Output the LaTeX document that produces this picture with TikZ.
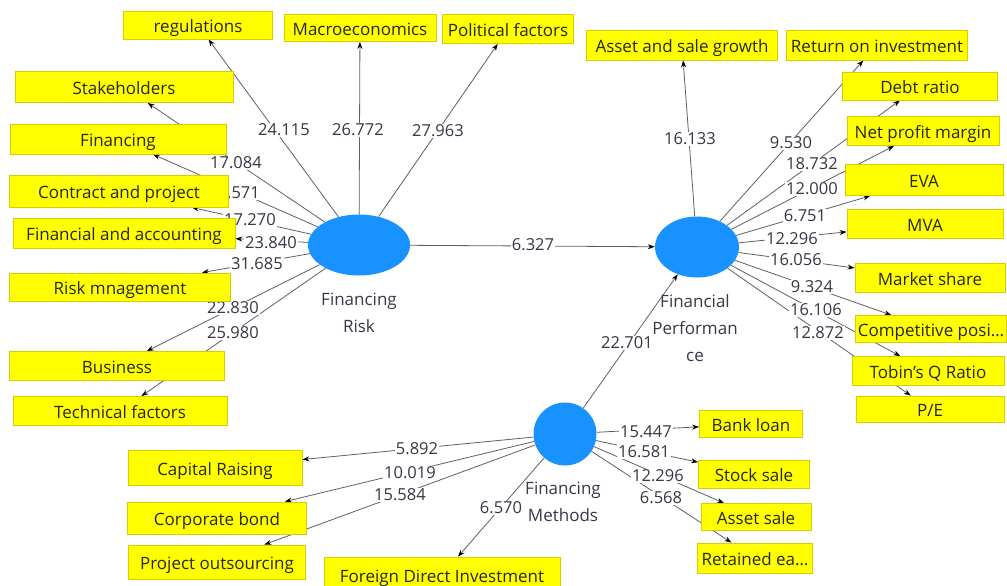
\documentclass[tikz,border=0pt]{standalone}
\usepackage{fontspec}
\setmainfont{Open Sans}
\usetikzlibrary{shapes.geometric,arrows.meta}
\pgfdeclarelayer{bg}
\pgfsetlayers{bg,main}
\definecolor{boxyellow}{RGB}{255,255,0}
\definecolor{boxedge}{RGB}{215,205,0}
\definecolor{lvblue}{RGB}{24,146,255}
\definecolor{edgegray}{RGB}{95,95,95}
\definecolor{lbl}{RGB}{55,55,70}
\begin{document}
\begin{tikzpicture}[x=1pt,y=-1pt,
 ind/.style={draw=boxedge,fill=boxyellow,line width=0.8pt,inner sep=0pt,text height=17pt,text depth=2pt,text=black!85,font=\fontsize{17}{20}\selectfont},
 lvnode/.style={fill=lvblue,draw=none,inner sep=0pt},
 lvtext/.style={align=center,text=lbl,font=\fontsize{17}{27}\selectfont},
 wt/.style={fill=white,inner sep=1pt,text=lbl,font=\fontsize{16.5}{18}\selectfont},
 edge/.style={draw=edgegray,line width=0.8pt,-{Stealth[length=7pt,width=5pt,color=black]}}]
\path[use as bounding box] (0,0) rectangle (1007,586);
\clip (0,0) rectangle (1007,586);

% latent variables
\node[lvnode,ellipse,minimum width=102pt,minimum height=61pt] (fr) at (359,245) {};
\node[lvnode,ellipse,minimum width=84pt,minimum height=61pt] (fp) at (697,247) {};
\node[lvnode,circle,minimum size=63pt] (fm) at (565,434) {};
\node[lvtext] (frt) at (359,313) {Financing\\Risk};
\node[lvtext] (fpt) at (695,328) {Financial\\Performan\\ce};
\node[lvtext] (fmt) at (563,502) {Financing\\Methods};

% indicator boxes - Financing Risk
\node[ind,minimum width=149pt,minimum height=28pt] (reg) at (198,25) {regulations};
\node[ind,minimum width=152pt,minimum height=27pt] (mac) at (360,28) {Macroeconomics};
\node[ind,minimum width=131pt,minimum height=29pt] (pol) at (508,29) {Political factors};
\node[ind,minimum width=218pt,minimum height=31pt] (stk) at (124,87) {Stakeholders};
\node[ind,minimum width=216pt,minimum height=30pt] (fin) at (118,139) {Financing};
\node[ind,minimum width=219pt,minimum height=32pt] (con) at (119,191) {Contract and project};
\node[ind,minimum width=222pt,minimum height=30pt] (fa) at (124,233) {Financial and accounting};
\node[ind,minimum width=221pt,minimum height=28pt] (rm) at (120,287) {Risk mnagement};
\node[ind,minimum width=215pt,minimum height=29pt] (bus) at (117,366) {Business};
\node[ind,minimum width=214pt,minimum height=29pt] (tec) at (120,411) {Technical factors};

% indicator boxes - Financial Performance
\node[ind,minimum width=191pt,minimum height=30pt] (asg) at (682,45) {Asset and sale growth};
\node[ind,minimum width=181pt,minimum height=30pt] (roi) at (877,45) {Return on investment};
\node[ind,minimum width=155pt,minimum height=28pt] (debt) at (920,86) {Debt ratio};
\node[ind,minimum width=152pt,minimum height=29pt] (npm) at (923,131) {Net profit margin};
\node[ind,minimum width=158pt,minimum height=31pt] (eva) at (924,180) {EVA};
\node[ind,minimum width=156pt,minimum height=29pt] (mva) at (925,224) {MVA};
\node[ind,minimum width=150pt,minimum height=29pt] (ms) at (930,278) {Market share};
\node[ind,minimum width=151pt,minimum height=27pt] (cp) at (931,329) {Competitive posi…};
\node[ind,minimum width=152pt,minimum height=29pt] (tob) at (928,371) {Tobin's Q Ratio};
\node[ind,minimum width=148pt,minimum height=26pt] (pe) at (930,409) {P/E};

% indicator boxes - Financing Methods
\node[ind,minimum width=103pt,minimum height=27pt] (bank) at (751,424) {Bank loan};
\node[ind,minimum width=111pt,minimum height=28pt] (stock) at (754,474) {Stock sale};
\node[ind,minimum width=110pt,minimum height=27pt] (asale) at (756,517) {Asset sale};
\node[ind,minimum width=115pt,minimum height=30pt] (ret) at (755,558) {Retained ea…};
\node[ind,minimum width=174pt,minimum height=35pt] (cap) at (215,468) {Capital Raising};
\node[ind,minimum width=179pt,minimum height=32pt] (corp) at (217,518) {Corporate bond};
\node[ind,minimum width=177pt,minimum height=34pt] (proj) at (217,562) {Project outsourcing};
\node[ind,minimum width=236pt,minimum height=36pt] (fdi) at (442,575) {Foreign Direct Investment};

\begin{pgfonlayer}{bg}
% edges
\draw[edge] (fr) -- (reg);
\draw[edge] (fr) -- (mac);
\draw[edge] (fr) -- (pol);
\draw[edge] (fr) -- (stk);
\draw[edge] (fr) -- (fin);
\draw[edge] (fr) -- (con);
\draw[edge] (fr) -- (fa);
\draw[edge] (fr) -- (rm);
\draw[edge] (fr) -- (bus);
\draw[edge] (fr) -- (tec);
\draw[edge] (fr) -- (fp);
\draw[edge] (fm) -- (fp);
\draw[edge] (fp) -- (asg);
\draw[edge] (fp) -- (roi);
\draw[edge] (fp) -- (debt);
\draw[edge] (fp) -- (npm);
\draw[edge] (fp) -- (eva);
\draw[edge] (fp) -- (mva);
\draw[edge] (fp) -- (ms);
\draw[edge] (fp) -- (cp);
\draw[edge] (fp) -- (tob);
\draw[edge] (fp) -- (pe);
\draw[edge] (fm) -- (bank);
\draw[edge] (fm) -- (stock);
\draw[edge] (fm) -- (asale);
\draw[edge] (fm) -- (ret);
\draw[edge] (fm) -- (cap);
\draw[edge] (fm) -- (corp);
\draw[edge] (fm) -- (proj);
\draw[edge] (fm) -- (fdi);
% path coefficients
\node[wt] (l1) at (284,130) {24.115};
\node[wt] (l2) at (358,130) {26.772};
\node[wt] (l3) at (438,131) {27.963};
\node[wt] (l4) at (236,163) {17.084};
\node[wt,anchor=east] (l5) at (261,193) {1.571};
\node[wt] (l6) at (250,220) {17.270};
\node[wt] (l7) at (271,243) {23.840};
\node[wt] (l8) at (257,264) {31.685};
\node[wt] (l9) at (233,308) {22.830};
\node[wt] (l10) at (233,333) {25.980};
\node[wt] (l11) at (533,245) {6.327};
\node[wt] (l12) at (627,343) {22.701};
\node[wt] (l13) at (690,139) {16.133};
\node[wt] (l14) at (791,143) {9.530};
\node[wt] (l15) at (812,164) {18.732};
\node[wt] (l16) at (812,189) {12.000};
\node[wt] (l17) at (805,216) {6.751};
\node[wt] (l18) at (792,239) {12.296};
\node[wt] (l19) at (796,260) {16.056};
\node[wt] (l20) at (812,287) {9.324};
\node[wt] (l21) at (816,310) {16.106};
\node[wt] (l22) at (818,333) {12.872};
\node[wt] (l23) at (646,432) {15.447};
\node[wt] (l24) at (644,452) {16.581};
\node[wt] (l25) at (658,476) {12.296};
\node[wt] (l26) at (661,498) {6.568};
\node[wt] (l27) at (417,449) {5.892};
\node[wt] (l28) at (410,473) {10.019};
\node[wt] (l29) at (400,495) {15.584};
\node[wt] (l30) at (501,508) {6.570};
\end{pgfonlayer}
\end{tikzpicture}
\end{document}
